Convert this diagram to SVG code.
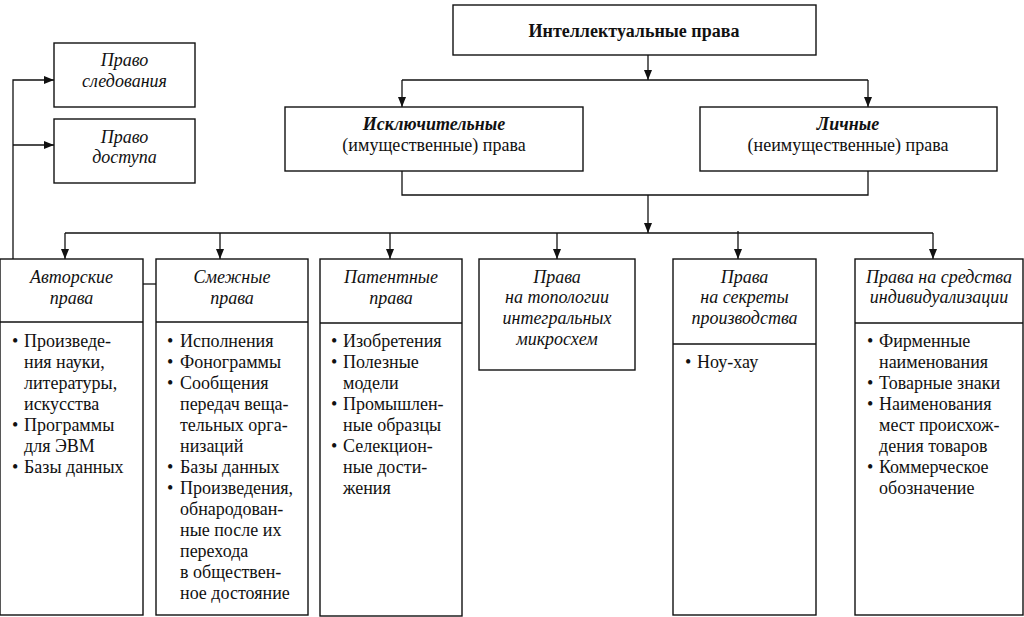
<svg xmlns="http://www.w3.org/2000/svg" width="1024" height="617" viewBox="0 0 1024 617">
<style>
.box{fill:#fff;stroke:#111;stroke-width:1.4}
.ln{fill:none;stroke:#111;stroke-width:1.3}
.c{text-anchor:middle}
.i{font-style:italic}
.b{font-weight:bold}
</style>
<defs>
<marker id="ah" markerUnits="userSpaceOnUse" markerWidth="10" markerHeight="8" refX="10" refY="4" orient="auto">
<path d="M0,0 L10,4 L0,8 z" fill="#111"/>
</marker>
</defs>
<rect width="1024" height="617" fill="#fff"/>
<g id="connectors" class="ln">
<path d="M648,55 V80" marker-end="url(#ah)"/>
<path d="M402,80 H868"/>
<path d="M402,80 V107" marker-end="url(#ah)"/>
<path d="M868,80 V107" marker-end="url(#ah)"/>
<path d="M402,171 V195 H868 V171"/>
<path d="M648,195 V233" marker-end="url(#ah)"/>
<path d="M65,233 H933"/>
<path d="M65,233 V259" marker-end="url(#ah)"/>
<path d="M220,233 V259" marker-end="url(#ah)"/>
<path d="M390,233 V259" marker-end="url(#ah)"/>
<path d="M557,233 V259" marker-end="url(#ah)"/>
<path d="M738,231 V259" marker-end="url(#ah)"/>
<path d="M933,233 V259" marker-end="url(#ah)"/>
<path d="M13,259 V80 H54" marker-end="url(#ah)"/>
<path d="M13,145 H54" marker-end="url(#ah)"/>
<path d="M143,284 H156"/>
</g>
<g font-family="Liberation Serif" font-size="18" fill="#111">
<g id="intellectual">
<rect class="box" x="453" y="5" width="363" height="50"/>
<text class="c b" x="634" y="37">Интеллектуальные права</text>
</g>
<g id="exclusive">
<rect class="box" x="285" y="107" width="298" height="64"/>
<text class="c b i" x="434" y="130">Исключительные</text>
<text class="c" x="434" y="151">(имущественные) права</text>
</g>
<g id="personal">
<rect class="box" x="700" y="107" width="297" height="64"/>
<text class="c b i" x="848" y="130">Личные</text>
<text class="c" x="848" y="151">(неимущественные) права</text>
</g>
<g id="follow">
<rect class="box" x="54" y="43" width="141" height="64"/>
<text class="c i" x="124.5" y="66">Право</text>
<text class="c i" x="124.5" y="87">следования</text>
</g>
<g id="access">
<rect class="box" x="54" y="119" width="141" height="64"/>
<text class="c i" x="124.5" y="143">Право</text>
<text class="c i" x="124.5" y="163">доступа</text>
</g>
<g id="author">
<rect class="box" x="0" y="259" width="143" height="356"/>
<path class="ln" d="M0,322 H143"/>
<text class="c i" x="71.5" y="283">Авторские</text>
<text class="c i" x="71.5" y="304">права</text>
<text x="12" y="347">•</text><text x="24" y="347">Произведе-</text>
<text x="24" y="368">ния науки,</text>
<text x="24" y="389">литературы,</text>
<text x="24" y="410">искусства</text>
<text x="12" y="431">•</text><text x="24" y="431">Программы</text>
<text x="24" y="452">для ЭВМ</text>
<text x="12" y="473">•</text><text x="24" y="473">Базы данных</text>
</g>
<g id="related">
<rect class="box" x="156" y="259" width="152" height="356"/>
<path class="ln" d="M156,322 H308"/>
<text class="c i" x="232" y="283">Смежные</text>
<text class="c i" x="232" y="304">права</text>
<text x="167" y="347">•</text><text x="180" y="347">Исполнения</text>
<text x="167" y="368">•</text><text x="180" y="368">Фонограммы</text>
<text x="167" y="389">•</text><text x="180" y="389">Сообщения</text>
<text x="180" y="410">передач веща-</text>
<text x="180" y="431">тельных орга-</text>
<text x="180" y="452">низаций</text>
<text x="167" y="473">•</text><text x="180" y="473">Базы данных</text>
<text x="167" y="494">•</text><text x="180" y="494">Произведения,</text>
<text x="180" y="515">обнародован-</text>
<text x="180" y="536">ные после их</text>
<text x="180" y="557">перехода</text>
<text x="180" y="578">в обществен-</text>
<text x="180" y="599">ное достояние</text>
</g>
<g id="patent">
<rect class="box" x="320" y="259" width="142" height="357"/>
<path class="ln" d="M320,323 H462"/>
<text class="c i" x="391" y="283">Патентные</text>
<text class="c i" x="391" y="304">права</text>
<text x="331" y="347">•</text><text x="343" y="347">Изобретения</text>
<text x="331" y="368">•</text><text x="343" y="368">Полезные</text>
<text x="343" y="389">модели</text>
<text x="331" y="410">•</text><text x="343" y="410">Промышлен-</text>
<text x="343" y="431">ные образцы</text>
<text x="331" y="452">•</text><text x="343" y="452">Селекцион-</text>
<text x="343" y="473">ные дости-</text>
<text x="343" y="494">жения</text>
</g>
<g id="topology">
<rect class="box" x="479" y="259" width="156" height="111"/>
<text class="c i" x="557" y="283">Права</text>
<text class="c i" x="557" y="303">на топологии</text>
<text class="c i" x="557" y="324">интегральных</text>
<text class="c i" x="557" y="345">микросхем</text>
</g>
<g id="secrets">
<rect class="box" x="673" y="259" width="143" height="356"/>
<path class="ln" d="M673,344 H816"/>
<text class="c i" x="744.5" y="283">Права</text>
<text class="c i" x="744.5" y="303">на секреты</text>
<text class="c i" x="744.5" y="324">производства</text>
<text x="685" y="368">•</text><text x="697" y="368">Ноу-хау</text>
</g>
<g id="individual">
<rect class="box" x="855" y="259" width="168" height="356"/>
<path class="ln" d="M855,323 H1023"/>
<text class="c i" x="939" y="283">Права на средства</text>
<text class="c i" x="939" y="303">индивидуализации</text>
<text x="867" y="347">•</text><text x="879" y="347">Фирменные</text>
<text x="879" y="368">наименования</text>
<text x="867" y="389">•</text><text x="879" y="389">Товарные знаки</text>
<text x="867" y="410">•</text><text x="879" y="410">Наименования</text>
<text x="879" y="431">мест происхож-</text>
<text x="879" y="452">дения товаров</text>
<text x="867" y="473">•</text><text x="879" y="473">Коммерческое</text>
<text x="879" y="494">обозначение</text>
</g>
</g>
</svg>
